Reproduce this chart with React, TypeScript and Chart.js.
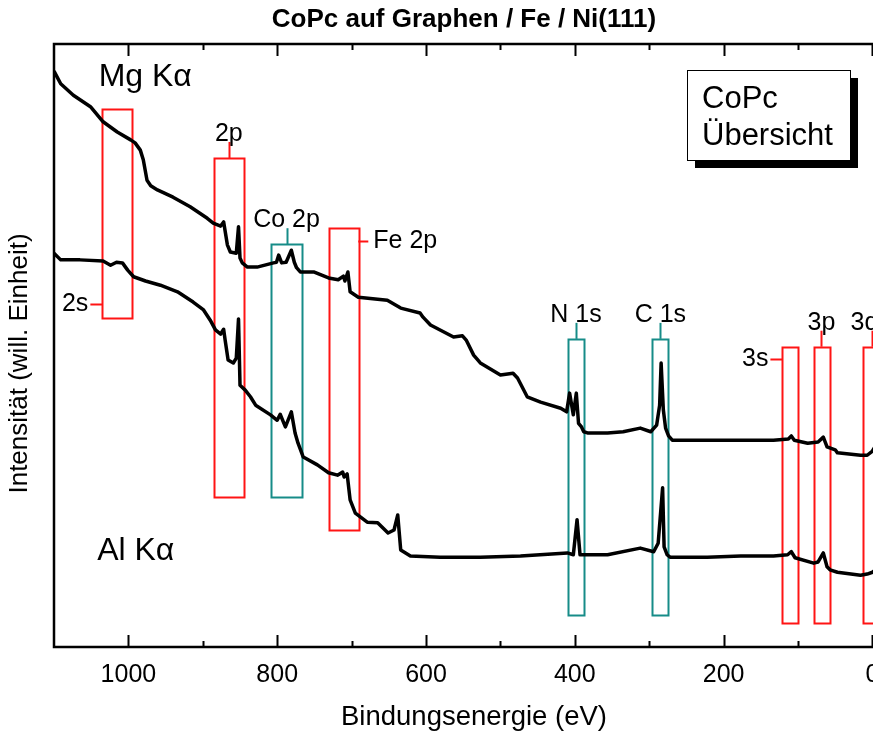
import React, { useEffect, useRef } from 'react';
import { Chart, registerables } from 'chart.js';

Chart.register(...registerables);

const FONT = '"Liberation Sans", Arial, Helvetica, sans-serif';

// ---------- Data ----------
const chartTitle = 'CoPc auf Graphen / Fe / Ni(111)';
const xTitle = 'Bindungsenergie (eV)';
const yTitle = 'Intensität (will. Einheit)';
const seriesNames = ['Mg Kα', 'Al Kα'];

// Mg Kα spectrum (binding energy in eV, intensity in arb. units)
const mgEnergy = [1100, 1091, 1074, 1051, 1034, 1015, 997, 991, 984, 980, 975, 970, 961, 940, 917, 894, 886, 876, 872, 867, 863, 855, 852, 850, 847, 840, 827, 805, 801, 798, 794, 788, 781, 777, 774, 769, 751, 731, 718, 711, 709, 705, 702, 691, 652, 634, 608, 604, 594, 563, 551, 546, 536, 527, 500, 483, 477, 464, 446, 419, 411, 407, 402, 398, 395, 391, 388, 383, 356, 335, 312, 298, 290, 286, 284, 281, 278, 274, 269, 222, 177, 133, 113, 109, 105, 87, 73, 66, 61, 50, 47, 16, 7, 0, -5, -11, -20, -40];
const mgIntensity = [95.5, 93.4, 91.5, 89.6, 87.1, 85.4, 84.1, 83.6, 82.4, 80.8, 77.4, 76.5, 75.8, 74.6, 73.0, 71.1, 70.3, 69.8, 70.5, 66.7, 65.5, 65.3, 69.7, 64.5, 63.7, 63.0, 63.0, 63.7, 63.8, 65.0, 63.7, 63.8, 65.8, 63.8, 62.9, 62.2, 62.2, 61.2, 60.9, 61.5, 60.7, 62.2, 58.9, 58.0, 57.5, 56.2, 55.4, 54.7, 53.4, 51.4, 51.6, 50.9, 48.4, 47.1, 45.1, 45.4, 44.6, 41.5, 40.6, 39.6, 39.0, 42.1, 38.5, 42.1, 37.1, 36.5, 35.7, 35.5, 35.5, 35.7, 36.3, 35.7, 36.8, 40.1, 47.1, 39.3, 36.3, 35.0, 34.3, 34.3, 34.3, 34.3, 34.5, 35.0, 34.3, 33.8, 34.0, 34.8, 33.2, 32.7, 32.2, 31.8, 31.8, 32.5, 33.5, 33.0, 32.5, 32.5];

// Al Kα spectrum
const alEnergy = [1100, 1091, 1065, 1034, 1024, 1016, 1008, 1001, 993, 977, 957, 934, 913, 899, 890, 883, 876, 872, 870, 866, 859, 855, 852, 850, 843, 836, 829, 809, 800, 796, 789, 781, 776, 772, 765, 746, 731, 719, 712, 710, 706, 702, 695, 679, 665, 651, 643, 638, 634, 621, 581, 527, 473, 410, 402, 397, 393, 356, 312, 294, 288, 282, 280, 276, 272, 222, 177, 133, 114, 109, 104, 79, 73, 66, 61, 57, 47, 16, 7, 0, -11, -20, -40];
const alIntensity = [65.3, 64.2, 64.2, 64.0, 63.3, 63.8, 63.7, 62.5, 61.4, 60.7, 60.0, 58.9, 57.2, 55.9, 54.2, 52.6, 51.9, 52.7, 50.9, 47.6, 47.1, 47.9, 54.4, 43.4, 42.6, 41.5, 40.1, 38.5, 37.6, 38.6, 36.5, 39.0, 35.5, 33.8, 31.5, 30.2, 28.9, 28.5, 29.0, 28.2, 28.7, 24.4, 22.2, 20.7, 20.6, 18.9, 19.4, 21.9, 16.1, 15.1, 14.9, 14.9, 15.1, 15.6, 15.3, 21.1, 15.3, 15.3, 16.4, 15.8, 17.2, 26.4, 16.6, 15.3, 14.9, 14.9, 15.1, 15.1, 15.3, 15.8, 14.8, 13.9, 14.1, 15.6, 13.3, 12.8, 12.4, 11.9, 12.1, 12.4, 13.4, 13.0, 13.0];

// Axis
const xMin = -29;
const xMax = 1100;
const xMajorStep = 200;
const xMinorTicks = [100, 300, 500, 700, 900];
const yMin = 0;
const yMax = 100;

// Peak regions (eV ranges, intensity ranges)
const peakNames = ['2s', '2p', 'Co 2p', 'Fe 2p', 'N 1s', 'C 1s', '3s', '3p', '3d'];
const peakGroup = ['Ni', 'Ni', 'CoPc', 'Fe', 'CoPc', 'CoPc', 'Ni', 'Ni', 'Ni'];
const boxLowE = [995, 845, 767, 691, 388, 274, 99, 58, -10];
const boxHighE = [1035, 885, 808, 731, 409, 296, 121, 79, 12];
const boxTopI = [89.2, 81.1, 66.8, 69.5, 51.1, 51.1, 49.8, 49.8, 49.8];
const boxBottomI = [54.6, 24.9, 24.9, 19.4, 5.3, 5.3, 4.0, 4.0, 4.0];
const labelSide = ['left', 'top', 'top', 'right', 'top', 'top', 'left', 'top', 'top'];
const labelLevelI = [56.9, null, null, 67.3, null, null, 47.8, null, null];
const labelCenterE = [null, 865, 787.5, null, 398.5, 285, null, 68.5, 10.8];

// Series labels
const seriesLabelE = [1040, 1042];
const seriesLabelI = [94.5, 15.9];

// Info box
const infoLines = ['CoPc', 'Übersicht'];

// ---------- Styles ----------
const groupColor: Record<string, string> = {
  Ni: 'rgb(255,20,20)',
  Fe: 'rgb(255,20,20)',
  CoPc: 'rgb(22,140,136)',
};

const annotationPlugin = {
  id: 'xpsAnnotations',
  beforeDatasetsDraw(chart: any) {
    const { ctx, scales, chartArea: a, width } = chart;
    const x = scales.x;
    const y = scales.y;
    ctx.save();
    // main title
    ctx.fillStyle = '#000';
    ctx.font = `bold 26px ${FONT}`;
    ctx.textAlign = 'center';
    ctx.textBaseline = 'middle';
    ctx.fillText(chartTitle, width / 2, 20);
    // y-axis title
    ctx.save();
    ctx.translate(20, (a.top + a.bottom) / 2 + 18);
    ctx.rotate(-Math.PI / 2);
    ctx.font = `26px ${FONT}`;
    ctx.fillText(yTitle, 0, 0);
    ctx.restore();

    ctx.lineWidth = 2;
    for (let i = 0; i < peakNames.length; i++) {
      const color = groupColor[peakGroup[i]];
      const xl = x.getPixelForValue(boxHighE[i]);
      const xr = x.getPixelForValue(boxLowE[i]);
      const yt = y.getPixelForValue(boxTopI[i]);
      const yb = y.getPixelForValue(boxBottomI[i]);
      ctx.strokeStyle = color;
      ctx.strokeRect(Math.round(xl) + 0.5, Math.round(yt) + 0.5, Math.round(xr - xl), Math.round(yb - yt));
      ctx.beginPath();
      ctx.fillStyle = '#000';
      ctx.font = `25px ${FONT}`;
      const side = labelSide[i];
      if (side === 'top') {
        const cx = Math.round((xl + xr) / 2) + 0.5;
        ctx.moveTo(cx, yt);
        ctx.lineTo(cx, yt - 16);
        ctx.stroke();
        ctx.textAlign = 'center';
        ctx.textBaseline = 'alphabetic';
        ctx.fillText(peakNames[i], x.getPixelForValue(labelCenterE[i] as number), yt - 17);
      } else if (side === 'left') {
        const ly = Math.round(y.getPixelForValue(labelLevelI[i] as number)) + 0.5;
        ctx.moveTo(xl, ly);
        ctx.lineTo(xl - 12, ly);
        ctx.stroke();
        ctx.textAlign = 'right';
        ctx.textBaseline = 'middle';
        ctx.fillText(peakNames[i], xl - 14, ly);
      } else {
        const ly = Math.round(y.getPixelForValue(labelLevelI[i] as number)) + 0.5;
        ctx.moveTo(xr, ly);
        ctx.lineTo(xr + 10, ly);
        ctx.stroke();
        ctx.textAlign = 'left';
        ctx.textBaseline = 'middle';
        ctx.fillText(peakNames[i], xr + 15, ly);
      }
    }
    ctx.restore();
  },
  afterDatasetsDraw(chart: any) {
    const { ctx, chartArea: a, scales } = chart;
    const x = scales.x;
    const y = scales.y;
    ctx.save();
    // frame
    ctx.strokeStyle = '#000';
    ctx.lineWidth = 2.5;
    ctx.beginPath();
    ctx.moveTo(a.left, a.top);
    ctx.lineTo(a.right, a.top);
    ctx.lineTo(a.right, a.bottom);
    ctx.lineTo(a.left, a.bottom);
    ctx.closePath();
    ctx.stroke();
    // inward ticks
    ctx.lineWidth = 2;
    const drawTick = (v: number, len: number) => {
      const px = Math.round(x.getPixelForValue(v)) + 0.5;
      ctx.beginPath();
      ctx.moveTo(px, a.bottom);
      ctx.lineTo(px, a.bottom - len);
      ctx.moveTo(px, a.top);
      ctx.lineTo(px, a.top + len);
      ctx.stroke();
    };
    x.ticks.forEach((t: any) => drawTick(t.value, 12));
    xMinorTicks.forEach((v) => drawTick(v, 6));

    // series labels
    ctx.fillStyle = '#000';
    ctx.font = `32px ${FONT}`;
    ctx.textAlign = 'left';
    ctx.textBaseline = 'middle';
    for (let i = 0; i < seriesNames.length; i++) {
      ctx.fillText(seriesNames[i], x.getPixelForValue(seriesLabelE[i]), y.getPixelForValue(seriesLabelI[i]));
    }

    // info box with shadow
    const bx = 687, by = 70, bw = 163, bh = 90, sh = 8;
    ctx.fillStyle = '#000';
    ctx.fillRect(bx + sh, by + sh, bw, bh);
    ctx.fillStyle = '#fff';
    ctx.fillRect(bx, by, bw, bh);
    ctx.strokeStyle = '#000';
    ctx.lineWidth = 1;
    ctx.strokeRect(bx + 0.5, by + 0.5, bw, bh);
    ctx.fillStyle = '#000';
    ctx.font = `31px ${FONT}`;
    ctx.textAlign = 'left';
    ctx.textBaseline = 'alphabetic';
    ctx.fillText(infoLines[0], bx + 15, by + 38);
    ctx.fillText(infoLines[1], bx + 15, by + 75);
    ctx.restore();
  },
};

export default function App() {
  const ref = useRef<HTMLCanvasElement>(null);
  useEffect(() => {
    const canvas = ref.current;
    if (!canvas) return;
    const chart = new Chart(canvas, {
      type: 'line',
      data: {
        datasets: [
          {
            label: seriesNames[0],
            data: mgEnergy.map((e, i) => ({ x: e, y: mgIntensity[i] })),
            borderColor: '#000',
            borderWidth: 3.5,
            pointRadius: 0,
            tension: 0,
            borderJoinStyle: 'round',
            fill: false,
          },
          {
            label: seriesNames[1],
            data: alEnergy.map((e, i) => ({ x: e, y: alIntensity[i] })),
            borderColor: '#000',
            borderWidth: 3.5,
            pointRadius: 0,
            tension: 0,
            borderJoinStyle: 'round',
            fill: false,
          },
        ],
      },
      options: {
        responsive: false,
        animation: false,
        devicePixelRatio: 1,
        layout: { padding: { left: 0, right: 34, top: 44, bottom: 0 } },
        plugins: {
          legend: { display: false },
          tooltip: { enabled: false },
          title: { display: false, text: chartTitle },
        },
        scales: {
          x: {
            type: 'linear',
            reverse: true,
            min: xMin,
            max: xMax,
            grid: { display: false, drawTicks: false },
            border: { display: false },
            ticks: {
              stepSize: xMajorStep,
              includeBounds: false,
              color: '#000',
              font: { family: FONT, size: 25 },
              padding: 13,
              maxRotation: 0,
              autoSkip: false,
              callback: (v: any) => String(v),
            },
            title: {
              display: true,
              text: xTitle,
              color: '#000',
              font: { family: FONT, size: 27.5, lineHeight: 1 },
              padding: { top: 0, bottom: 0 },
            },
            afterFit: (s: any) => { s.height = 84; },
          },
          y: {
            type: 'linear',
            min: yMin,
            max: yMax,
            grid: { display: false, drawTicks: false },
            border: { display: false },
            ticks: { display: false },
            title: { display: false, text: yTitle },
            afterFit: (s: any) => { s.width = 54; },
          },
        },
      } as any,
      plugins: [annotationPlugin],
    });
    return () => chart.destroy();
  }, []);

  return (
    <div style={{ position: 'fixed', left: 0, top: 0, width: 873, height: 731, overflow: 'hidden', background: '#fff' }}>
      <canvas ref={ref} width={928} height={731} style={{ display: 'block' }} />
    </div>
  );
}
